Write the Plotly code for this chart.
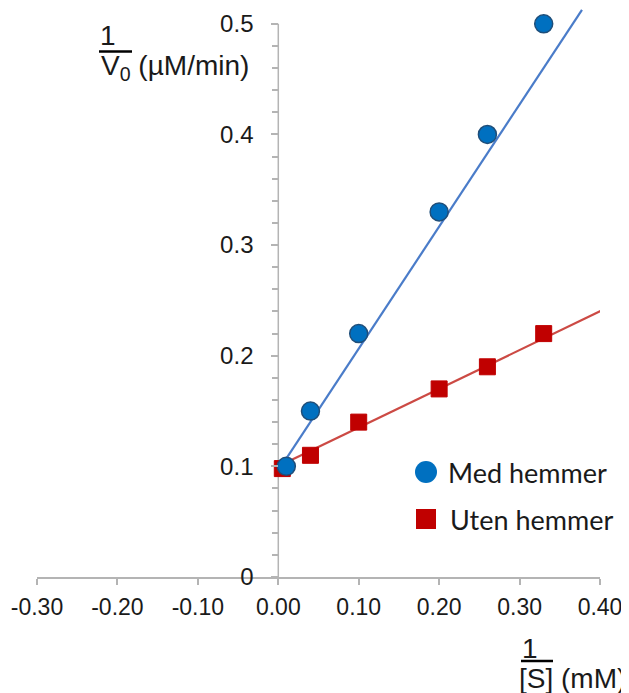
import plotly.graph_objects as go

# ---- data ----
med_x = [0.01, 0.04, 0.10, 0.20, 0.26, 0.33]
med_y = [0.10, 0.15, 0.22, 0.33, 0.40, 0.50]
uten_x = [0.005, 0.04, 0.10, 0.20, 0.26, 0.33]
uten_y = [0.098, 0.11, 0.14, 0.17, 0.19, 0.22]
# trend lines (end points)
med_line_x = [0.005, 0.3776]
med_line_y = [0.1015, 0.5127]
uten_line_x = [0.0, 0.411]
uten_line_y = [0.100, 0.244]

x_ticks = [-0.30, -0.20, -0.10, 0.00, 0.10, 0.20, 0.30, 0.40]
x_ticktext = ["-0.30", "-0.20", "-0.10", "0.00", "0.10", "0.20", "0.30", "0.40"]
y_ticks = [0, 0.1, 0.2, 0.3, 0.4, 0.5]
y_ticktext = ["0", "0.1", "0.2", "0.3", "0.4", "0.5"]
legend_labels = ["Med hemmer", "Uten hemmer"]

OFF = 8  # page body margin
W, H = 621, 685
L, R, T, B = 29, 29, 0, 116
PW, PH = W - L - R, H - T - B
Y_TOP = 0.5143

def px(x):
    return (x - OFF - L) / PW

def py(y):
    return (H - B - (y - OFF)) / PH

BLUE = "#0070c0"
BLUE_EDGE = "#1f4e79"
BLUE_LINE = "#4a7cc9"
RED = "#c00000"
RED_LINE = "#cc4a44"
AXIS = "#b4b4b4"
TXT = "#1a1a1a"

fig = go.Figure()
fig.add_trace(go.Scatter(x=med_line_x, y=med_line_y, mode="lines",
                         line=dict(color=BLUE_LINE, width=2.2), showlegend=False))
fig.add_trace(go.Scatter(x=uten_line_x, y=uten_line_y, mode="lines",
                         line=dict(color=RED_LINE, width=2.2), showlegend=False))
fig.add_trace(go.Scatter(x=uten_x, y=uten_y, mode="markers", name=legend_labels[1],
                         marker=dict(symbol="square", size=16, color=RED,
                                     line=dict(color=RED, width=1)),
                         showlegend=False, cliponaxis=False))
fig.add_trace(go.Scatter(x=med_x, y=med_y, mode="markers", name=legend_labels[0],
                         marker=dict(symbol="circle", size=18, color=BLUE,
                                     line=dict(color=BLUE_EDGE, width=1.5)),
                         showlegend=False, cliponaxis=False))

fig.update_layout(
    width=W, height=H,
    margin=dict(l=L, r=R, t=T, b=B, pad=0),
    paper_bgcolor="white", plot_bgcolor="white",
    showlegend=False,
    xaxis=dict(range=[-0.30, 0.40], domain=[0, 1],
               tickvals=x_ticks, ticktext=x_ticktext,
               showline=True, linecolor=AXIS, linewidth=1.5,
               ticks="outside", ticklen=6, tickwidth=1.5, tickcolor=AXIS,
               showgrid=False, zeroline=False,
               tickfont=dict(family="Liberation Sans, Arial", size=23, color=TXT),
               ticklabelstandoff=3),
    yaxis=dict(range=[0, Y_TOP], anchor="free", position=3 / 7,
               tickvals=y_ticks, ticktext=y_ticktext,
               showline=False, showgrid=False, zeroline=False,
               ticks="outside", ticklen=7, tickwidth=1.5, tickcolor=AXIS,
               minor=dict(dtick=0.02, ticks="outside", ticklen=6, tickwidth=1.5, tickcolor=AXIS),
               tickfont=dict(family="Liberation Sans, Arial", size=24, color=TXT),
               ticklabelstandoff=13),
)

# y axis line from 0 to 0.5 at x=0
fig.add_shape(type="line", xref="x", yref="y", x0=0, x1=0, y0=0, y1=0.5,
              line=dict(color=AXIS, width=1.5), layer="below")

afont = dict(family="Liberation Sans, Arial", size=28, color=TXT)
# y-axis title: 1 / V0 (µM/min)
fig.add_annotation(xref="paper", yref="paper", x=px(108), y=py(36), text="1",
                   showarrow=False, xanchor="center", yanchor="middle", font=afont)
fig.add_shape(type="line", xref="paper", yref="paper", x0=px(99), x1=px(132),
              y0=py(51.5), y1=py(51.5), line=dict(color="black", width=2.5))
fig.add_annotation(xref="paper", yref="paper", x=px(99), y=py(67), text="V<sub>0</sub> (µM/min)",
                   showarrow=False, xanchor="left", yanchor="middle", font=afont)
# x-axis title: 1 / [S] (mM)
fig.add_annotation(xref="paper", yref="paper", x=px(530), y=py(648), text="1",
                   showarrow=False, xanchor="center", yanchor="middle", font=afont)
fig.add_shape(type="line", xref="paper", yref="paper", x0=px(521), x1=px(553),
              y0=py(661), y1=py(661), line=dict(color="black", width=2.5))
fig.add_annotation(xref="paper", yref="paper", x=px(628), y=py(678), text="[S] (mM)",
                   showarrow=False, xanchor="right", yanchor="middle", font=afont)

# legend (manual)
lfont = dict(family="Lato, Open Sans", size=27, color=TXT)
fig.add_shape(type="circle", xref="paper", yref="paper",
              x0=px(415), x1=px(437), y0=py(483), y1=py(461),
              fillcolor=BLUE, line=dict(color=BLUE, width=0))
fig.add_annotation(xref="paper", yref="paper", x=px(446), y=py(472), text=legend_labels[0],
                   showarrow=False, xanchor="left", yanchor="middle", font=lfont)
fig.add_shape(type="rect", xref="paper", yref="paper",
              x0=px(416), x1=px(436), y0=py(529), y1=py(509),
              fillcolor=RED, line=dict(color=RED, width=0))
fig.add_annotation(xref="paper", yref="paper", x=px(448), y=py(519), text=legend_labels[1],
                   showarrow=False, xanchor="left", yanchor="middle", font=lfont)

fig.write_html("out.html")
